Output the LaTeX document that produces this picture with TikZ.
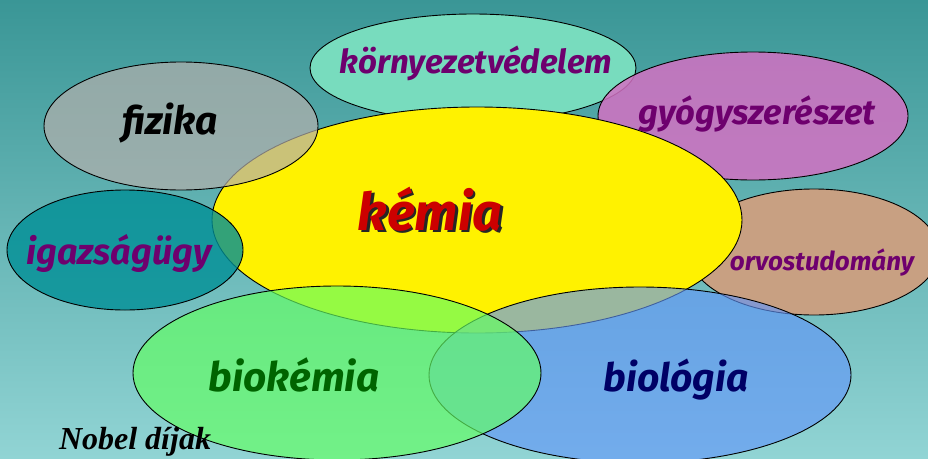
\documentclass[tikz,border=0pt]{standalone}
\usepackage{fontspec}
\setmainfont{Fira Sans}
\newfontfamily\nobelfont{Liberation Serif}
\definecolor{bgtop}{RGB}{58,150,150}
\definecolor{bgbot}{RGB}{145,212,212}
\definecolor{kornycol}{RGB}{120,220,190}
\definecolor{gyogycol}{RGB}{211,113,195}
\definecolor{orvoscol}{RGB}{200,160,130}
\definecolor{fizcol}{RGB}{180,175,172}
\definecolor{igazcol}{RGB}{0,143,150}
\definecolor{biolcol}{RGB}{98,150,250}
\definecolor{biokcol}{RGB}{100,255,100}
\definecolor{purp}{RGB}{110,0,110}
\definecolor{kemred}{RGB}{204,0,0}
\definecolor{darkgr}{RGB}{0,100,0}
\definecolor{navy}{RGB}{0,0,102}
\tikzset{
  blob/.style={draw=black, line width=0.9pt},
  lab/.style={inner sep=0pt, anchor=center},
}
\begin{document}
\begin{tikzpicture}[x=1pt,y=-1pt]
\useasboundingbox (0,0) rectangle (928,458);
\shade[top color=bgtop, bottom color=bgbot] (0,0) rectangle (928,458);
% back ellipses
\path[blob, fill=kornycol] (473,68) ellipse [x radius=163pt, y radius=54pt];
\path[blob, fill=gyogycol, fill opacity=0.85] (753,116) ellipse [x radius=155pt, y radius=64pt];
\path[blob, fill=orvoscol] (814,252) ellipse [x radius=125pt, y radius=63pt];
\path[blob, fill=yellow] (477,220) ellipse [x radius=265pt, y radius=113pt];
\path[blob, fill=fizcol, fill opacity=0.7] (181,126) ellipse [x radius=137pt, y radius=64pt];
\path[blob, fill=igazcol, fill opacity=0.8] (125,250) ellipse [x radius=118pt, y radius=60pt];
\path[blob, fill=biolcol, fill opacity=0.64] (640,375) ellipse [x radius=211pt, y radius=88pt];
\path[blob, fill=biokcol, fill opacity=0.68] (337,373) ellipse [x radius=204pt, y radius=87pt];
% labels
\node[lab, text=purp, font=\fontsize{33}{33}\selectfont\bfseries\itshape] (korny) at (476,63) {környezetvédelem};
\node[lab, text=black, font=\fontsize{39}{39}\selectfont\bfseries\itshape] (fiz) at (170,123) {fizika};
\node[lab, text=purp, font=\fontsize{34.5}{34.5}\selectfont\bfseries\itshape] (gyogy) at (757,114) {gyógyszerészet};
\node[lab, text=black!85, font=\fontsize{52}{52}\selectfont\bfseries\itshape] (kemsh) at (432.5,211.5) {kémia};
\node[lab, text=kemred, font=\fontsize{52}{52}\selectfont\bfseries\itshape] (kem) at (430,209) {kémia};
\node[lab, text=purp, font=\fontsize{36}{36}\selectfont\bfseries\itshape] (igaz) at (119,253) {igazságügy};
\node[lab, text=purp, font=\fontsize{26}{26}\selectfont\bfseries\itshape] (orvos) at (822,263) {orvostudomány};
\node[lab, text=darkgr, font=\fontsize{40.5}{40.5}\selectfont\bfseries\itshape] (biok) at (294,375) {biokémia};
\node[lab, text=navy, font=\fontsize{39}{39}\selectfont\bfseries\itshape] (biol) at (676,380) {biológia};
\node[lab, text=black, font=\fontsize{32}{32}\selectfont\nobelfont\bfseries\itshape] (nobel) at (135,442) {Nobel díjak};
\end{tikzpicture}
\end{document}
